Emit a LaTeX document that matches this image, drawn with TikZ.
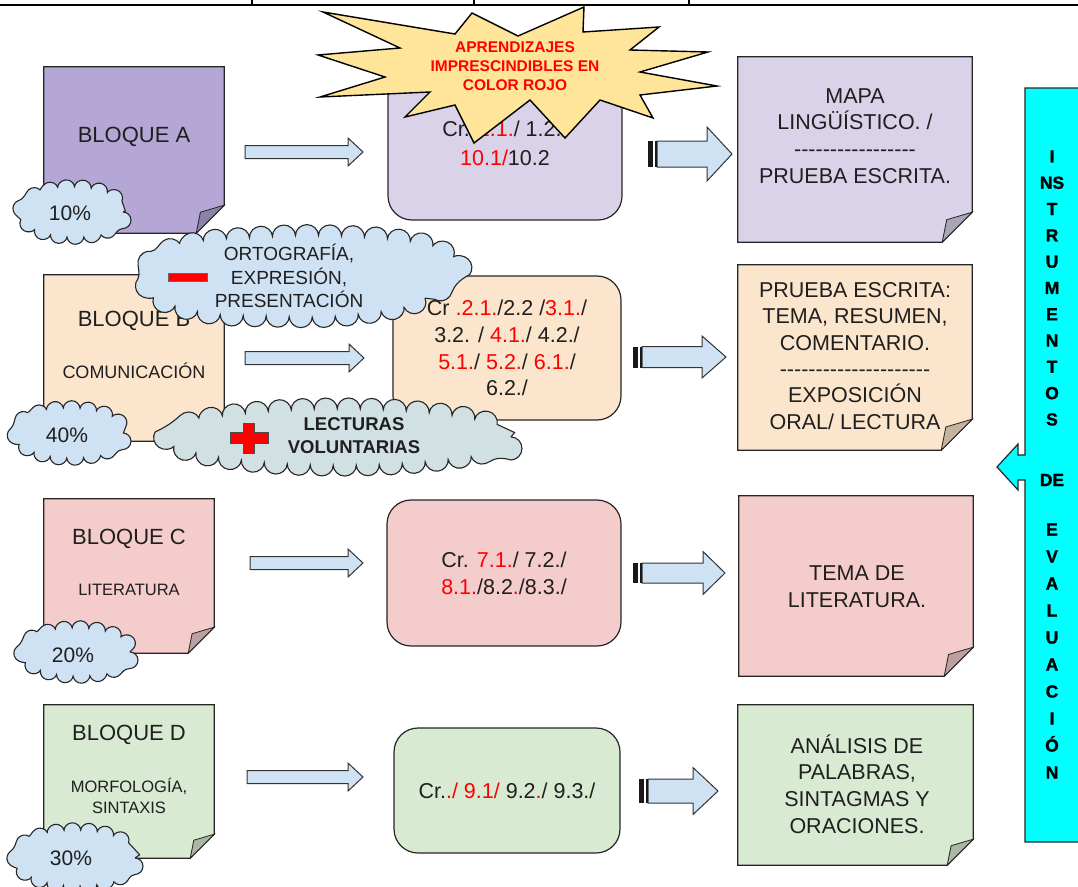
\documentclass[tikz,border=0pt]{standalone}
\usepackage{fontspec}
\setmainfont{Liberation Sans}
\newfontfamily\barfont{Liberation Sans}[BoldFeatures={FakeBold=1.3}]
\usetikzlibrary{decorations.pathmorphing,calc}
\definecolor{txt}{HTML}{1F1F1F}
\definecolor{rd}{HTML}{FF0000}
\definecolor{purA}{HTML}{B4A7D6}
\definecolor{lav}{HTML}{D9D2E9}
\definecolor{peach}{HTML}{FCE5CD}
\definecolor{pinkc}{HTML}{F4CCCC}
\definecolor{grn}{HTML}{D9EAD3}
\definecolor{sky}{HTML}{CFE2F3}
\definecolor{gsky}{HTML}{D0E0E3}
\definecolor{starc}{HTML}{FFE599}
\definecolor{cyanbar}{HTML}{00FFFF}
\pgfdeclarelayer{bg}
\pgfsetlayers{bg,main}
\newcommand{\R}[1]{\textcolor{rd}{#1}}
\newcommand{\hy}{-{}}
% sticky note background drawn from an (invisible) named node
\newcommand{\stickynote}[3]{%
  \begin{pgfonlayer}{bg}
  \draw[fill=#2, draw=black!85, line width=1.2pt, line join=miter] (#1.north west) -- (#1.north east) -- ([yshift=#3]#1.south east) -- ([xshift=-#3]#1.south east) -- (#1.south west) -- cycle;
  \draw[fill=#2!78!black, draw=black!85, line width=0.8pt] ([yshift=#3]#1.south east) -- ([xshift=-0.85*#3,yshift=0.75*#3]#1.south east) -- ([xshift=-#3]#1.south east) -- cycle;
  \end{pgfonlayer}}
% light block arrow: x1 x2 yc
\newcommand{\larrow}[3]{%
  \draw[larr] (#1,#3-6.5) -- (#2-15,#3-6.5) -- (#2-15,#3-14) -- (#2,#3) -- (#2-15,#3+14) -- (#2-15,#3+6.5) -- (#1,#3+6.5) -- cycle;}
% striped block arrow: x1 x2 yc shafthalf headhalf headlen
\newcommand{\tarrow}[6]{%
  \draw[larr] (#1+9,#3-#4) -- (#2-#6,#3-#4) -- (#2-#6,#3-#5) -- (#2,#3) -- (#2-#6,#3+#5) -- (#2-#6,#3+#4) -- (#1+9,#3+#4) -- cycle;
  \fill[black!90] (#1,#3-#4) rectangle (#1+5,#3+#4);
  \fill[black!90] (#1+6.7,#3-#4) rectangle (#1+9,#3+#4);}
\tikzset{
  every node/.style={text=txt},
  notebg/.style={draw=none, fill=none, inner sep=0pt, rectangle},
  lbl/.style={align=center, inner sep=0pt, font=\fontsize{22}{26}\selectfont},
  sublbl/.style={align=center, inner sep=0pt, font=\fontsize{17}{21}\selectfont},
  ntxt/.style={align=center, inner sep=0pt, font=\fontsize{21.5}{26.7}\selectfont},
  crbox/.style={draw=black!85, line width=1.2pt, rounded corners=24pt, inner sep=0pt, align=center, font=\fontsize{21.5}{26.7}\selectfont},
  smallcloud/.style={draw=black!85, line width=1.1pt, fill=sky, decorate, decoration={bumps, segment length=33pt, amplitude=8pt}},
  bigcloud/.style={draw=black!85, line width=1.1pt, decorate, decoration={bumps, segment length=46pt, amplitude=11pt}},
  pctxt/.style={inner sep=0pt, font=\fontsize{21}{25}\selectfont},
  cloudtxt/.style={align=center, inner sep=0pt, font=\fontsize{19}{23.5}\selectfont},
  larr/.style={draw=black!80, line width=1pt, fill=sky, line join=miter},
  starsty/.style={draw=black, line width=1.4pt, fill=starc, line join=miter},
  startxt/.style={align=center, inner sep=0pt, text=rd, font=\bfseries\fontsize{15.5}{19}\selectfont},
  bartxt/.style={align=center, inner sep=0pt, text=black, font=\barfont\bfseries\fontsize{17.5}{26.3}\selectfont}
}
\begin{document}
\begin{tikzpicture}[x=1pt,y=-1pt]
\useasboundingbox (0,0) rectangle (1078,886);
\begin{pgfonlayer}{bg}
\fill[white] (0,0) rectangle (1078,886);
\end{pgfonlayer}

% top rule
\draw[line width=2.5pt] (0,5) -- (1078,5);
\foreach \xx in {252,474,689} \draw[line width=2pt] (\xx,0) -- (\xx,5);

% sticky notes (left)
\node[notebg, minimum width=180, minimum height=166] (bA) at (134,150) {};
\node[notebg, minimum width=180, minimum height=166] (bB) at (134,358) {};
\node[notebg, minimum width=170, minimum height=154] (bC) at (129,576) {};
\node[notebg, minimum width=170, minimum height=153] (bD) at (129,781.5) {};
\stickynote{bA}{purA}{28pt}
\stickynote{bB}{peach}{28pt}
\stickynote{bC}{pinkc}{26pt}
\stickynote{bD}{grn}{24pt}
% sticky notes (right)
\node[notebg, minimum width=234, minimum height=185] (mA) at (855,149.5) {};
\node[notebg, minimum width=234, minimum height=185] (mB) at (855,357.5) {};
\node[notebg, minimum width=234, minimum height=180] (mC) at (856,586) {};
\node[notebg, minimum width=235, minimum height=160] (mD) at (855.5,785) {};
\stickynote{mA}{lav}{30pt}
\stickynote{mB}{peach}{31pt}
\stickynote{mC}{pinkc}{29pt}
\stickynote{mD}{grn}{26pt}

% left labels
\node[lbl] (tA) at (134,137) {BLOQUE A};
\node[lbl] (tB) at (134,321) {BLOQUE B};
\node[sublbl, font=\fontsize{18}{21}\selectfont] (tB2) at (134,371) {COMUNICACIÓN};
\node[lbl] (tC) at (129,539) {BLOQUE C};
\node[sublbl, font=\fontsize{16.5}{21}\selectfont] (tC2) at (129,590) {LITERATURA};
\node[lbl] (tD) at (129,735) {BLOQUE D};
\node[sublbl, font=\fontsize{16.5}{21}\selectfont] (tD2) at (129,796) {MORFOLOGÍA,\\SINTAXIS};

% right labels
\node[ntxt] (tmA) at (855,136) {MAPA\\LINGÜÍSTICO. /\\\hy\hy\hy\hy\hy\hy\hy\hy\hy\hy\hy\hy\hy\hy\hy\hy\hy\\PRUEBA ESCRITA.};
\node[ntxt, font=\fontsize{21.5}{26.3}\selectfont] (tmB) at (855,356) {PRUEBA ESCRITA:\\TEMA, RESUMEN,\\COMENTARIO.\\\hy\hy\hy\hy\hy\hy\hy\hy\hy\hy\hy\hy\hy\hy\hy\hy\hy\hy\hy\hy\hy\\EXPOSICIÓN\\ORAL/ LECTURA};
\node[ntxt] (tmC) at (857,587) {TEMA DE\\LITERATURA.};
\node[ntxt] (tmD) at (857,784) {ANÁLISIS DE\\PALABRAS,\\SINTAGMAS Y\\ORACIONES.};

% criteria boxes
\node[crbox, fill=lav, minimum width=234, minimum height=152] (cA) at (505,144) {};
\node[ntxt, font=\fontsize{21.5}{29}\selectfont] (tcA) at (505,143) {Cr. \R{1.1.}/ 1.2./\\\R{10.1/}10.2};
\node[crbox, fill=peach, minimum width=228, minimum height=144] (cB) at (507,348) {Cr \R{.2.1.}/2.2 /\R{3.1.}/\\3.2. / \R{4.1.}/ 4.2./\\\R{5.1.}/ \R{5.2.}/ \R{6.1.}/\\6.2./};
\node[crbox, fill=pinkc, minimum width=234, minimum height=146] (cC) at (504,573) {Cr. \R{7.1.}/ 7.2./\\\R{8.1.}/8.2\R{.}/8.3./};
\node[crbox, fill=grn, minimum width=226, minimum height=125] (cD) at (507,790.5) {Cr.\R{./ 9.1/} 9.2\R{.}/ 9.3./};

% light arrows
\larrow{245}{363}{152}
\larrow{245}{364}{358}
\larrow{250}{363}{563}
\larrow{247}{363}{777}
% striped arrows
\tarrow{648}{732}{154}{13}{27}{25}
\tarrow{633}{726}{357}{10.5}{21}{24}
\tarrow{633}{725}{573}{10}{21.5}{22}
\tarrow{639}{718}{791}{12}{23.5}{25}

% percentage clouds
\coordinate (c10) at (73,212);
\coordinate (c40) at (70,433);
\coordinate (c20) at (77,652);
\coordinate (c30) at (76,858);
\draw[smallcloud] (c10) ellipse [x radius=50, y radius=24];
\draw[smallcloud] (c40) ellipse [x radius=53, y radius=24];
\draw[smallcloud] (c20) ellipse [x radius=53, y radius=23];
\draw[smallcloud] (c30) ellipse [x radius=59, y radius=27];
\node[pctxt] (p10) at (70,213) {10\%};
\node[pctxt] (p40) at (67,435) {40\%};
\node[pctxt] (p20) at (73,655) {20\%};
\node[pctxt] (p30) at (71,858) {30\%};

% ORTOGRAFIA cloud
\draw[bigcloud, fill=sky] plot[smooth cycle, tension=0.7] coordinates {(453,270) (425,298) (355,314) (270,316) (200,311) (155,294) (150,266) (185,246) (250,238) (330,236) (410,242) (445,255)};
\node[draw=black!60, fill=rd, minimum width=39, minimum height=8, inner sep=0pt] (minus) at (187.5,277) {};
\node[cloudtxt] (tO) at (289,276) {ORTOGRAFÍA,\\EXPRESIÓN,\\PRESENTACIÓN};

% LECTURAS cloud
\coordinate (cL) at (340,437);
\draw[bigcloud, fill=gsky] (cL) ellipse [x radius=171, y radius=28];
\draw[draw=black!70, fill=rd, line width=0.8pt, shift={(249,438)}]
  (-5.5,-15) -- (5.5,-15) -- (5.5,-5.5) -- (19,-5.5) -- (19,5.5) -- (5.5,5.5) -- (5.5,15) -- (-5.5,15) -- (-5.5,5.5) -- (-19,5.5) -- (-19,-5.5) -- (-5.5,-5.5) -- cycle;
\node[cloudtxt, font=\bfseries\fontsize{18.5}{23}\selectfont] (tL) at (354,436) {LECTURAS\\VOLUNTARIAS};

% star
\draw[starsty] (323,12) -- (455,34) -- (472,13) -- (518,36) -- (584,7) -- (583,32) -- (659,27) -- (630,50) -- (708,52) -- (640,72) -- (717,86) -- (640,95) -- (653,118) -- (600,100) -- (565,138) -- (530,100) -- (474,143) -- (455,105) -- (405,117) -- (430,92) -- (320,97) -- (385,77) -- (318,55) -- (400,48) -- cycle;
\node[startxt] (tS) at (515,66) {APRENDIZAJES\\IMPRESCINDIBLES EN\\COLOR ROJO};

% right bar
\draw[fill=cyanbar, line width=1.2pt, draw=black!85, line join=miter] (1082,88) -- (1025,88) -- (1025,455) -- (1018,455) -- (1018,444) -- (997,467) -- (1018,490) -- (1018,480) -- (1025,480) -- (1025,842) -- (1082,842);
\node[bartxt] (bar1) at (1052,288) {I\\NS\\T\\R\\U\\M\\E\\N\\T\\O\\S};
\node[bartxt] (bar2) at (1052,480) {DE};
\node[bartxt, font=\barfont\bfseries\fontsize{17.5}{27}\selectfont] (bar3) at (1052,651) {E\\V\\A\\L\\U\\A\\C\\I\\Ó\\N};
\end{tikzpicture}
\end{document}
